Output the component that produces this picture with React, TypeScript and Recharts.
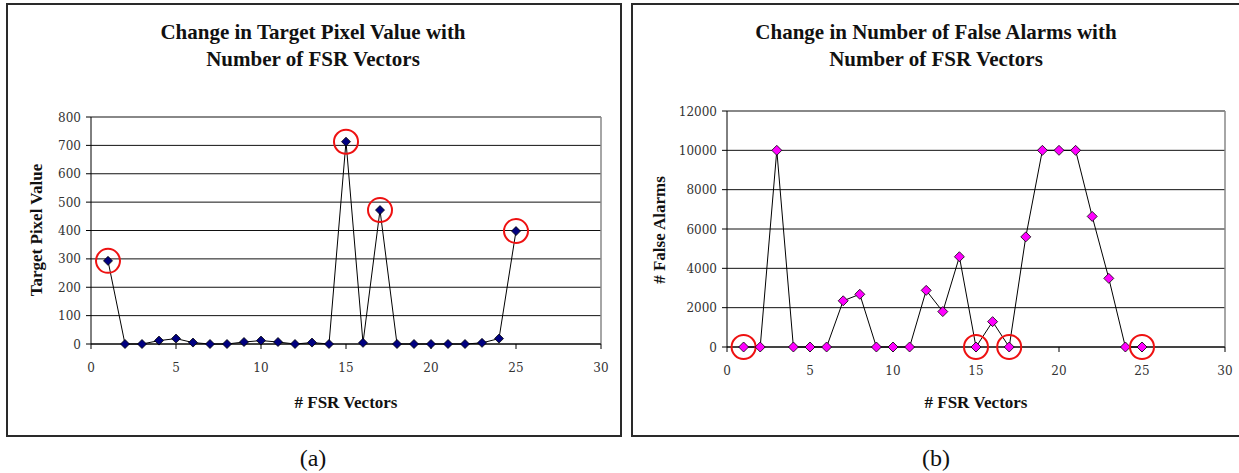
import { LineChart, Line, XAxis, YAxis, CartesianGrid, ReferenceLine } from "recharts"

const vectors = [1, 2, 3, 4, 5, 6, 7, 8, 9, 10, 11, 12, 13, 14, 15, 16, 17, 18, 19, 20, 21, 22, 23, 24, 25]
const pixelValues = [293, 0, 0, 12, 19, 5, 0, 0, 7, 12, 7, 0, 5, 0, 713, 4, 472, 0, 0, 0, 0, 0, 4, 19, 398]
const falseAlarms = [0, 0, 10000, 0, 0, 0, 2350, 2680, 0, 0, 0, 2880, 1800, 4590, 0, 1290, 0, 5600, 10000, 10000, 10000, 6640, 3490, 0, 0]
const circled = [1, 15, 17, 25]

const xTicks = [0, 5, 10, 15, 20, 25, 30]
const pixelTicks = [0, 100, 200, 300, 400, 500, 600, 700, 800]
const alarmTicks = [0, 2000, 4000, 6000, 8000, 10000, 12000]

const pixelData = vectors.map((v, i) => ({ x: v, y: pixelValues[i] }))
const alarmData = vectors.map((v, i) => ({ x: v, y: falseAlarms[i] }))

const FONT = "'Liberation Serif', 'DejaVu Serif', serif"
const TICK_FONT = "'DejaVu Serif', serif"

function Diamond(props: any) {
  const { cx, cy, payload, fill, r } = props
  if (cx == null || cy == null) return null
  const ring = circled.includes(payload.x)
  return (
    <g>
      <polygon
        points={`${cx},${cy - r} ${cx + r},${cy} ${cx},${cy + r} ${cx - r},${cy}`}
        fill={fill}
        stroke="#000"
        strokeWidth={0.8}
      />
      {ring && <circle cx={cx} cy={cy} r={12} fill="none" stroke="#ee1111" strokeWidth={2} />}
    </g>
  )
}

function XTick(props: any) {
  const { x, y, payload } = props
  return (
    <text x={x} y={y + 21} textAnchor="middle" fontFamily={TICK_FONT} fontSize={12} fill="#333">
      {payload.value}
    </text>
  )
}

function YTick(props: any) {
  const { x, y, payload } = props
  return (
    <text x={x - 3} y={y + 4.5} textAnchor="end" fontFamily={TICK_FONT} fontSize={12} fill="#333">
      {payload.value}
    </text>
  )
}

function Panel(props: {
  left: number
  width: number
  data: { x: number; y: number }[]
  yTicks: number[]
  yMax: number
  fill: string
  r: number
  margin: { top: number; right: number; bottom: number; left: number }
  yWidth: number
  title: string[]
  yLabel: string
  yLabelX: number
  caption: string
}) {
  const h = 432
  const plotW = props.width - props.margin.left - props.yWidth - props.margin.right
  return (
    <>
      <div
        style={{
          position: "absolute",
          left: props.left,
          top: 3,
          width: props.width - 2,
          height: h - 2,
          border: "2px solid #2a2a2a",
          background: "#fff",
        }}
      />
      <div style={{ position: "absolute", left: props.left, top: 3 }}>
        <LineChart width={props.width} height={h} data={props.data} margin={props.margin}>
          <CartesianGrid horizontal vertical={false} stroke="#111" strokeWidth={1} />
          <ReferenceLine y={props.yMax} stroke="#888" strokeWidth={1.5} />
          <ReferenceLine x={30} stroke="#888" strokeWidth={1.5} />
          <XAxis
            dataKey="x"
            type="number"
            domain={[0, 30]}
            ticks={xTicks}
            height={30}
            stroke="#000"
            tickSize={5}
            tick={<XTick />}
          />
          <YAxis
            type="number"
            domain={[0, props.yMax]}
            ticks={props.yTicks}
            width={props.yWidth}
            stroke="#000"
            tickSize={5}
            tick={<YTick />}
          />
          <Line
            dataKey="y"
            stroke="#000"
            strokeWidth={1}
            isAnimationActive={false}
            dot={<Diamond fill={props.fill} r={props.r} />}
          />
        </LineChart>
      </div>
      <div
        style={{
          position: "absolute",
          left: props.left,
          top: 19,
          width: props.width,
          textAlign: "center",
          fontFamily: FONT,
          fontWeight: "bold",
          fontSize: 21,
          lineHeight: "27px",
          color: "#111",
        }}
      >
        {props.title.map((t) => (
          <div key={t}>{t}</div>
        ))}
      </div>
      <div
        style={{
          position: "absolute",
          left: props.yLabelX - 100,
          top: 230 - 11,
          width: 200,
          height: 22,
          lineHeight: "22px",
          textAlign: "center",
          transform: "rotate(-90deg)",
          fontFamily: FONT,
          fontWeight: "bold",
          fontSize: 17,
          color: "#111",
        }}
      >
        {props.yLabel}
      </div>
      <div
        style={{
          position: "absolute",
          left: props.left + props.margin.left + props.yWidth - 100,
          top: 392,
          width: 200 + plotW,
          textAlign: "center",
          fontFamily: FONT,
          fontWeight: "bold",
          fontSize: 17,
          lineHeight: "22px",
          color: "#111",
        }}
      >
        # FSR Vectors
      </div>
      <div
        style={{
          position: "absolute",
          left: props.left,
          top: 444,
          width: props.width,
          textAlign: "center",
          fontFamily: FONT,
          fontSize: 24,
          lineHeight: "28px",
          color: "#111",
        }}
      >
        {props.caption}
      </div>
    </>
  )
}

export default function App() {
  return (
    <div style={{ position: "absolute", left: 0, top: 0, width: 1239, height: 473, background: "#fff", overflow: "hidden" }}>
      <Panel
        left={6}
        width={614}
        data={pixelData}
        yTicks={pixelTicks}
        yMax={800}
        fill="#000080"
        r={4.5}
        margin={{ top: 114, right: 19, bottom: 61, left: 35 }}
        yWidth={50}
        title={["Change in Target Pixel Value with", "Number of FSR Vectors"]}
        yLabel="Target Pixel Value"
        yLabelX={37}
        caption="(a)"
      />
      <Panel
        left={631}
        width={610}
        data={alarmData}
        yTicks={alarmTicks}
        yMax={12000}
        fill="#ff00ff"
        r={5}
        margin={{ top: 108, right: 16, bottom: 58, left: 41 }}
        yWidth={55}
        title={["Change in Number of False Alarms with", "Number of FSR Vectors"]}
        yLabel="# False Alarms"
        yLabelX={660}
        caption="(b)"
      />
    </div>
  )
}
